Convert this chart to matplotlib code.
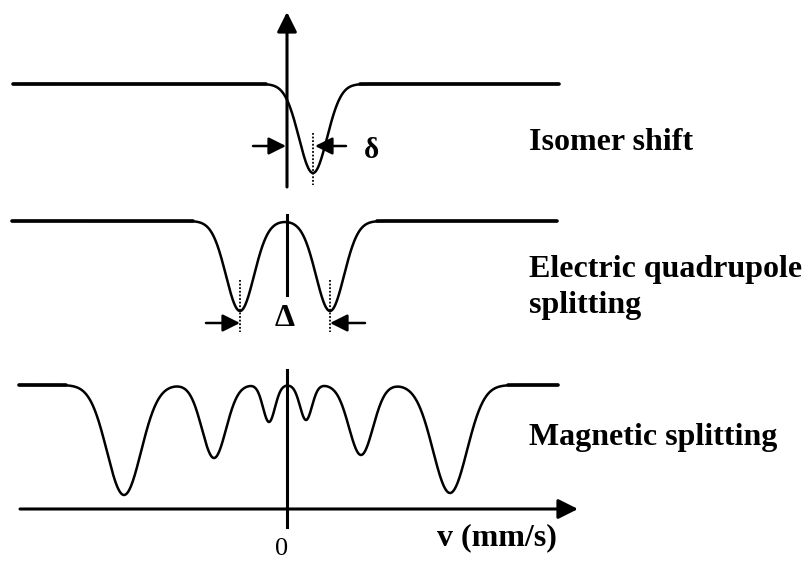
import numpy as np
import matplotlib.pyplot as plt

# Schematic Mössbauer spectra; x is velocity offset from v = 0, y runs downward
x0 = 287

# Isomer shift: single line
iso_base = 84
iso_pos = [26]
iso_depth = [89]
iso_sigma = [14]
iso_span = (-274, 272)

# Electric quadrupole splitting: doublet
quad_base = 221
quad_pos = [-47, 43]
quad_depth = [90, 90]
quad_sigma = [14, 14]
quad_span = (-275, 270)

# Magnetic splitting: sextet
mag_base = 385
mag_pos = [-163, -73, -18, 19, 74, 163]
mag_depth = [110, 73, 37, 35, 70, 108]
mag_sigma = [17, 12, 6, 6, 12, 17]
mag_span = (-268, 271)

serif = ['Liberation Serif', 'DejaVu Serif']


def spectrum(v, base, pos, depth, sigma):
    y = np.full_like(v, float(base))
    for p, d, s in zip(pos, depth, sigma):
        y += d * np.exp(-(v - p) ** 2 / (2 * s ** 2))
    return y


fig = plt.figure(figsize=(8.09, 5.62), dpi=100)
ax = fig.add_axes([0, 0, 1, 1])
ax.set_xlim(-x0, 809 - x0)
ax.set_ylim(562, 0)
ax.axis('off')

for base, pos, depth, sigma, span in [
        (iso_base, iso_pos, iso_depth, iso_sigma, iso_span),
        (quad_base, quad_pos, quad_depth, quad_sigma, quad_span),
        (mag_base, mag_pos, mag_depth, mag_sigma, mag_span)]:
    v = np.linspace(span[0], span[1], 2000)
    y = spectrum(v, base, pos, depth, sigma)
    ax.plot(v, y, color='black', lw=1.8, solid_capstyle='round')
    # flat wings drawn a bit heavier
    dip = y - base
    idx = np.where(dip > 0.3)[0]
    ax.plot([span[0], v[idx[0]]], [base, base], color='black', lw=2.6,
            solid_capstyle='round')
    ax.plot([v[idx[-1]], span[1]], [base, base], color='black', lw=2.6,
            solid_capstyle='round')

arrow = dict(arrowstyle='-|>,head_length=0.8,head_width=0.4', color='black',
             lw=2.2, mutation_scale=15, shrinkA=0, shrinkB=0)
small = dict(arrowstyle='-|>,head_length=0.7,head_width=0.35', color='black',
             lw=1.8, mutation_scale=15, shrinkA=0, shrinkB=0)

# velocity axes
ax.annotate('', xy=(0, 12), xytext=(0, 187), arrowprops=arrow)
ax.plot([0, 0], [215, 295], color='black', lw=2.2)
ax.plot([0, 0], [370, 527], color='black', lw=2.2)
ax.annotate('', xy=(578 - x0, 509), xytext=(20 - x0, 509), arrowprops=arrow)

# isomer shift marker
ax.plot([iso_pos[0]] * 2, [133, 185], color='black', lw=1.3, ls=(0, (1, 1)))
ax.annotate('', xy=(-1, 146), xytext=(253 - x0, 146), arrowprops=small)
ax.annotate('', xy=(iso_pos[0] + 2, 146), xytext=(346 - x0, 146), arrowprops=small)
ax.text(372 - x0, 150, 'δ', fontsize=21, fontweight='bold', family=serif,
        ha='center', va='center')

# quadrupole splitting marker
for p in quad_pos:
    ax.plot([p, p], [280, 332], color='black', lw=1.3, ls=(0, (1, 1)))
ax.annotate('', xy=(quad_pos[0], 323), xytext=(206 - x0, 323), arrowprops=small)
ax.annotate('', xy=(quad_pos[1], 323), xytext=(365 - x0, 323), arrowprops=small)
ax.text(-2, 319, 'Δ', fontsize=23, fontweight='bold', family=serif,
        ha='center', va='center')

# labels
lx = 529 - x0
fs = 23
ax.text(lx, 142, 'Isomer shift', fontsize=fs, fontweight='bold', family=serif,
        va='center')
ax.text(lx, 270, 'Electric quadrupole', fontsize=fs, fontweight='bold',
        family=serif, va='center')
ax.text(lx, 305, 'splitting', fontsize=fs, fontweight='bold',
        family=serif, va='center')
ax.text(lx, 438, 'Magnetic splitting', fontsize=fs, fontweight='bold',
        family=serif, va='center')
ax.text(557 - x0, 538, 'v (mm/s)', fontsize=fs, fontweight='bold',
        family=serif, ha='right', va='center')
ax.text(-5, 549, '0', fontsize=19, family=serif, ha='center', va='center')

fig.savefig('out.png', dpi=100)
